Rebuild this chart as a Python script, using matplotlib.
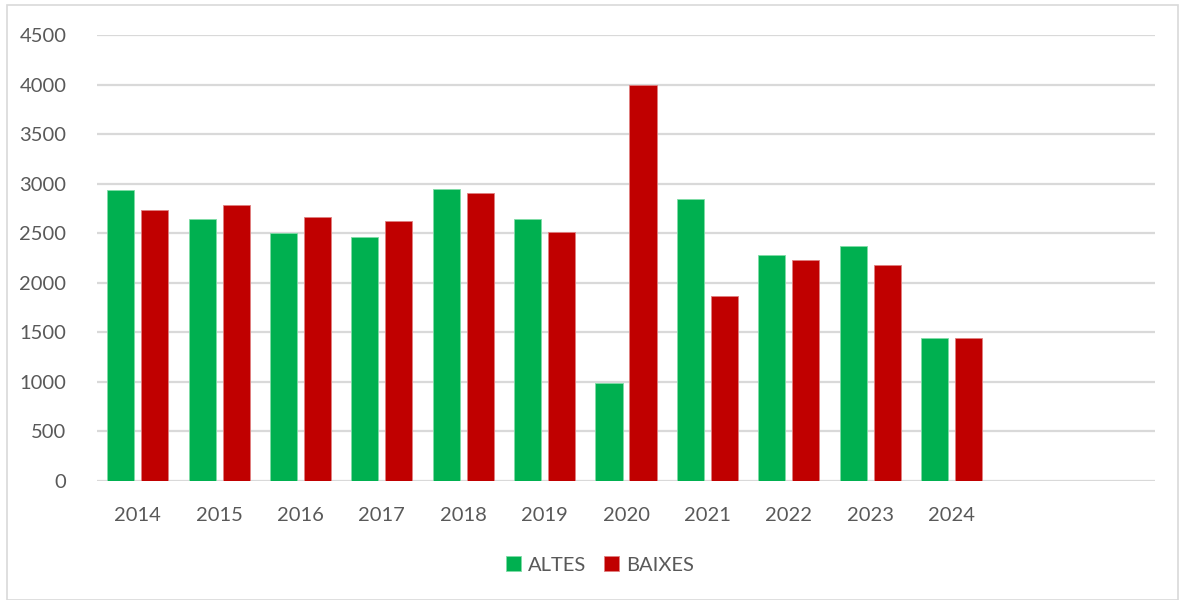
import matplotlib
matplotlib.use("Agg")
import matplotlib.pyplot as plt
import numpy as np
from matplotlib.patches import Rectangle

years = ["2014", "2015", "2016", "2017", "2018", "2019", "2020", "2021", "2022", "2023", "2024", "", ""]
altes = [2940, 2640, 2500, 2460, 2945, 2640, 985, 2843, 2281, 2371, 1440]
baixes = [2738, 2788, 2664, 2621, 2906, 2516, 3995, 1867, 2230, 2180, 1446]
yticks = [0, 500, 1000, 1500, 2000, 2500, 3000, 3500, 4000, 4500]

green = "#00b050"
red = "#c00000"
grid = "#d9d9d9"
txt = "#595959"

plt.rcParams['font.family'] = ['Lato', 'DejaVu Sans']

W, H = 1183, 600
fig = plt.figure(figsize=(W / 100, H / 100), dpi=100)
ax = fig.add_axes([97 / W, 1 - 481 / H, (1155 - 97) / W, (481 - 35) / H])

n = len(years)
x = np.arange(len(altes))
bw = 0.332
off = 0.209
ax.bar(x - off, altes, width=bw, color=green, edgecolor="#7fdca6", linewidth=0.6, label="ALTES", zorder=3)
ax.bar(x + off, baixes, width=bw, color=red, edgecolor="#e08080", linewidth=0.6, label="BAIXES", zorder=3)

ax.set_xlim(-0.5, n - 0.5)
ax.set_ylim(0, 4500)
ax.set_yticks(yticks)
ax.set_yticklabels([str(v) for v in yticks], fontsize=14.5, color=txt)
ax.set_xticks(np.arange(n))
ax.set_xticklabels(years, fontsize=14.5, color=txt)
ax.tick_params(axis='both', length=0)
ax.tick_params(axis='y', pad=22)
ax.tick_params(axis='x', pad=19)
ax.yaxis.grid(True, color=grid, linewidth=1.6, zorder=0)
ax.set_axisbelow(True)
for s in ax.spines.values():
    s.set_visible(False)

leg = fig.legend(loc="center", bbox_to_anchor=(600 / W, 1 - 565 / H), ncol=2, frameon=False,
                 fontsize=14.5, handlelength=0.75, handleheight=0.75, columnspacing=0.9, handletextpad=0.35)
for t in leg.get_texts():
    t.set_color(txt)

fig.patches.append(Rectangle((7 / W, 0), (1178 - 7) / W, 1 - 5 / H, transform=fig.transFigure,
                             fill=False, edgecolor="#d9d9d9", linewidth=1.2))

fig.savefig("out.png", dpi=100)
